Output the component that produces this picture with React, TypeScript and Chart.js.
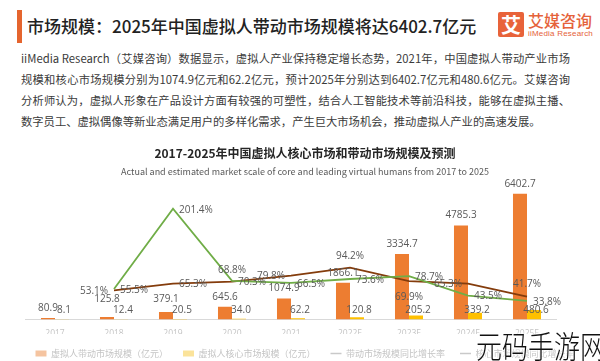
import React, { useEffect, useRef } from 'react';
import { Chart, registerables } from 'chart.js';

Chart.register(...registerables);

// ---------- data ----------
const categories = ['2017', '2018', '2019', '2020', '2021', '2022E', '2023E', '2024E', '2025E'];
const leadingScale = [80.9, 125.8, 379.1, 645.6, 1074.9, 1866.1, 3334.7, 4785.3, 6402.7];
const coreScale = [8.1, 12.4, 20.5, 34.0, 62.2, 120.8, 205.2, 339.2, 480.6];
const leadingGrowth = [null, 55.5, 201.4, 70.3, 66.5, 73.6, 78.7, 43.5, 33.8];
const coreGrowth = [null, 53.1, 65.3, 68.8, 79.8, 94.2, 69.9, 65.3, 41.7];
const seriesNames = ['虚拟人带动市场规模（亿元）', '虚拟人核心市场规模（亿元）', '带动市场规模同比增长率', '核心市场规模同比增长率'];
const leadingGrowthLabelSide = ['none', 'right', 'right', 'right', 'right', 'right', 'right', 'right', 'right'];
const coreGrowthLabelSide = ['none', 'left', 'right', 'above', 'left', 'above', 'below', 'left', 'above'];

const chartTitle = '2017-2025年中国虚拟人核心市场和带动市场规模及预测';
const chartSubtitle = 'Actual and estimated market scale of core and leading virtual humans from 2017 to 2025';
const headline = '市场规模：2025年中国虚拟人带动市场规模将达6402.7亿元';
const paragraphLines = [
  'iiMedia Research（艾媒咨询）数据显示，虚拟人产业保持稳定增长态势，2021年，中国虚拟人带动产业市场',
  '规模和核心市场规模分别为1074.9亿元和62.2亿元，预计2025年分别达到6402.7亿元和480.6亿元。艾媒咨询',
  '分析师认为，虚拟人形象在产品设计方面有较强的可塑性，结合人工智能技术等前沿科技，能够在虚拟主播、',
  '数字员工、虚拟偶像等新业态满足用户的多样化需求，产生巨大市场机会，推动虚拟人产业的高速发展。',
];

const ORANGE = '#ED7D31';
const YELLOW = '#FFC000';
const GREEN = '#70AD47';
const BROWN = '#843C0C';
const LABEL_COLOR = '#595959';

const valueLabelPlugin = {
  id: 'valueLabels',
  afterDatasetsDraw(chart: any) {
    const ctx = chart.ctx;
    ctx.save();
    ctx.font = '10px "Open Sans"';
    ctx.fillStyle = LABEL_COLOR;
    ctx.textBaseline = 'middle';
    ctx.textAlign = 'center';
    const baseY = chart.scales.y.getPixelForValue(0);
    const coreMeta = chart.getDatasetMeta(1);
    const coreLabelY = baseY - 9;

    chart.getDatasetMeta(0).data.forEach((bar: any, i: number) => {
      const t = leadingScale[i].toFixed(1);
      const w = ctx.measureText(t).width;
      let y = bar.y - 10;
      const cBar = coreMeta.data[i];
      const ct = coreScale[i].toFixed(1);
      const cw = ctx.measureText(ct).width;
      const cx = cBar.x + 2;
      const overlapX = (bar.x + w / 2) - (cx - cw / 2);
      if (overlapX > 2 && Math.abs(y - coreLabelY) < 11) y = coreLabelY - 11;
      ctx.fillText(t, bar.x, y);
    });
    coreMeta.data.forEach((bar: any, i: number) => {
      ctx.fillText(coreScale[i].toFixed(1), bar.x + 2, coreLabelY);
    });

    const drawLineLabels = (meta: any, values: (number | null)[], sides: string[]) => {
      meta.data.forEach((pt: any, i: number) => {
        const v = values[i];
        if (v == null || sides[i] === 'none') return;
        const t = v.toFixed(1) + '%';
        const side = sides[i];
        if (side === 'right') {
          ctx.textAlign = 'left';
          ctx.fillText(t, pt.x + 6, pt.y + 1);
        } else if (side === 'left') {
          ctx.textAlign = 'right';
          ctx.fillText(t, pt.x - 6, pt.y + 1);
        } else if (side === 'above') {
          ctx.textAlign = 'center';
          ctx.fillText(t, pt.x, pt.y - 12);
        } else {
          ctx.textAlign = 'center';
          ctx.fillText(t, pt.x, pt.y + 16);
        }
      });
    };
    drawLineLabels(chart.getDatasetMeta(2), leadingGrowth, leadingGrowthLabelSide);
    drawLineLabels(chart.getDatasetMeta(3), coreGrowth, coreGrowthLabelSide);
    ctx.restore();
  },
};

export default function App() {
  const canvasRef = useRef<HTMLCanvasElement>(null);

  useEffect(() => {
    const legendFill = ['#F5C4A0', '#FBE39A', '#C9C9C9', '#C9C9C9'];
    const chart = new Chart(canvasRef.current as HTMLCanvasElement, {
      type: 'bar',
      data: {
        labels: categories,
        datasets: [
          {
            type: 'bar',
            label: seriesNames[0],
            data: leadingScale,
            backgroundColor: ORANGE,
            yAxisID: 'y',
            order: 2,
            categoryPercentage: 0.475,
            barPercentage: 1,
          },
          {
            type: 'bar',
            label: seriesNames[1],
            data: coreScale,
            backgroundColor: YELLOW,
            yAxisID: 'y',
            order: 2,
            categoryPercentage: 0.475,
            barPercentage: 1,
          },
          {
            type: 'line',
            label: seriesNames[2],
            data: leadingGrowth,
            borderColor: GREEN,
            backgroundColor: GREEN,
            borderWidth: 1.8,
            pointRadius: 0,
            tension: 0,
            yAxisID: 'y2',
            order: 0,
          },
          {
            type: 'line',
            label: seriesNames[3],
            data: coreGrowth,
            borderColor: BROWN,
            backgroundColor: BROWN,
            borderWidth: 1.8,
            pointRadius: 0,
            tension: 0,
            yAxisID: 'y2',
            order: 0,
          },
        ] as any,
      },
      options: {
        responsive: false,
        animation: false,
        layout: { padding: 0 },
        scales: {
          x: {
            grid: { display: false, drawTicks: false },
            border: { display: true, color: '#D9D9D9', width: 1 },
            ticks: { color: '#C4C4C4', font: { family: '"Open Sans"', size: 8.5 }, padding: 9, maxRotation: 0 },
            afterFit: (s: any) => { s.height = 14.5; },
          },
          y: {
            position: 'left',
            min: 0,
            max: 7000,
            ticks: { display: false },
            grid: { display: false, drawTicks: false },
            border: { display: false },
            afterFit: (s: any) => { s.width = 25.5; },
          },
          y2: {
            position: 'right',
            min: 0,
            max: 250,
            ticks: { display: false },
            grid: { display: false, drawTicks: false },
            border: { display: false },
            afterFit: (s: any) => { s.width = 53.5; },
          },
        } as any,
        plugins: {
          tooltip: { enabled: false },
          title: {
            display: true,
            text: chartTitle,
            color: '#262626',
            font: { family: '"Noto Sans CJK SC"', size: 12, weight: 'bold' },
            padding: { top: 5.8, bottom: 3.4 },
          },
          subtitle: {
            display: true,
            text: chartSubtitle,
            color: '#595959',
            font: { family: '"Noto Sans CJK SC"', size: 9 },
            padding: { top: 3, bottom: 4.6 },
          },
          legend: {
            position: 'bottom',
            labels: {
              usePointStyle: true,
              pointStyleWidth: 11,
              boxHeight: 6,
              padding: 15,
              color: '#C4C4C4',
              font: { family: '"Noto Sans CJK SC"', size: 9 },
              generateLabels: (c: any) =>
                c.data.datasets.map((ds: any, i: number) => ({
                  text: ds.label,
                  fillStyle: legendFill[i],
                  strokeStyle: legendFill[i],
                  lineWidth: i < 2 ? 0 : 1.5,
                  pointStyle: i < 2 ? 'rect' : 'line',
                  fontColor: '#C4C4C4',
                  hidden: false,
                  datasetIndex: i,
                })),
            },
          },
        } as any,
      },
      plugins: [valueLabelPlugin],
    });
    return () => chart.destroy();
  }, []);

  const cjk = '"Noto Sans CJK SC", sans-serif';

  return (
    <div style={{ position: 'absolute', left: 0, top: 0, width: 600, height: 361, overflow: 'hidden', background: '#fff', fontFamily: cjk }}>
      {/* header accent bar */}
      <div style={{ position: 'absolute', left: 17, top: 10, width: 5, height: 33, background: '#E5652E' }} />
      <div style={{ position: 'absolute', left: 27, top: 15, height: 22, lineHeight: '22px', fontSize: 17, fontWeight: 500, color: '#222', whiteSpace: 'nowrap' }}>
        {headline}
      </div>
      {/* logo */}
      <div style={{ position: 'absolute', left: 498, top: 12, width: 26, height: 25, background: '#E8633A', borderRadius: 2, color: '#fff', fontSize: 20, fontWeight: 700, lineHeight: '25px', textAlign: 'center' }}>艾</div>
      <div style={{ position: 'absolute', left: 528, top: 11, height: 18, lineHeight: '18px', fontSize: 16, fontWeight: 500, color: '#E5623A', whiteSpace: 'nowrap' }}>艾媒咨询</div>
      <div style={{ position: 'absolute', left: 528, top: 29, height: 10, lineHeight: '10px', fontSize: 8, color: '#E5623A', fontFamily: '"Liberation Sans", sans-serif', letterSpacing: 0.2, whiteSpace: 'nowrap' }}>iiMedia Research</div>
      {/* paragraph */}
      {paragraphLines.map((line, i) => (
        <div
          key={i}
          style={{
            position: 'absolute',
            left: 21,
            top: 51 + i * 21,
            width: 549,
            height: 14,
            lineHeight: '14px',
            fontSize: 11.3,
            color: '#3A3A3A',
            whiteSpace: 'nowrap',
            textAlign: i < 3 ? 'justify' : 'left',
            textAlignLast: i < 3 ? 'justify' : 'left',
          } as any}
        >
          {line}
        </div>
      ))}
      <canvas ref={canvasRef} width={610} height={228} style={{ position: 'absolute', left: 0, top: 140 }} />
      {/* watermark */}
      <div
        style={{
          position: 'absolute',
          left: 476,
          top: 326,
          fontSize: 26,
          lineHeight: '32px',
          fontWeight: 300,
          color: '#111',
          whiteSpace: 'nowrap',
          transform: 'scaleY(1.2)',
          transformOrigin: 'left top',
          textShadow: '0 0 2px #fff, 0 0 2px #fff, 0 0 3px #fff',
        }}
      >
        元码手游网
      </div>
    </div>
  );
}
